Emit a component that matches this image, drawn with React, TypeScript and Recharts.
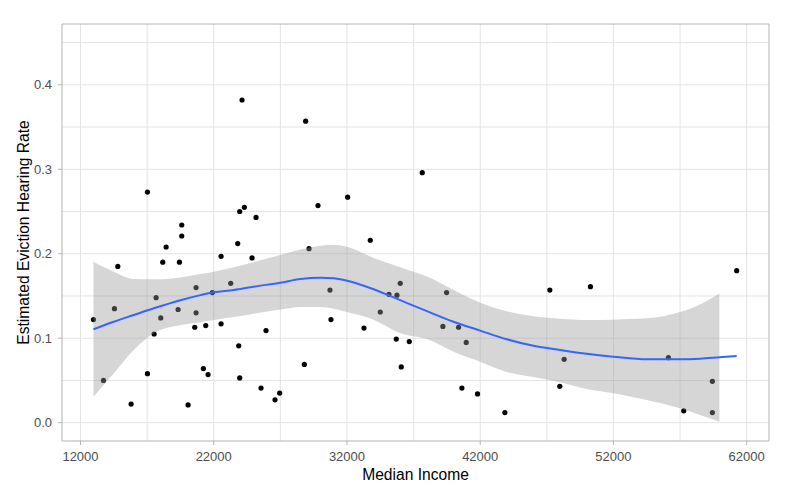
import React from "react";
import {
  ComposedChart,
  XAxis,
  YAxis,
  Scatter,
  Area,
  Line,
  ReferenceLine,
  ReferenceArea,
  Label,
} from "recharts";

// Observed points: median income vs estimated eviction hearing rate
const incomes = [
  12975, 13725, 14550, 14800, 15800, 17025, 17025, 17525, 17675, 18025,
  18175, 18425, 19325, 19425, 19600, 19600, 20075, 20675, 20675, 20575,
  21225, 21400, 21575, 21900, 22550, 22550, 23275, 23800, 23875, 23950,
  23950, 24125, 24300, 24875, 25175, 25550, 25925, 26600, 26950, 28800,
  28900, 29150, 29825, 30725, 30800, 32050, 33275, 33750, 34500, 35150,
  35700, 35750, 36000, 36075, 36675, 37650, 39200, 39475, 40375, 40625,
  40950, 41800, 43850, 47225, 47975, 48300, 50275, 56125, 57275, 59425,
  59425, 61250,
];
const rates = [
  0.122, 0.05, 0.135, 0.185, 0.022, 0.058, 0.273, 0.105, 0.148, 0.124,
  0.19, 0.208, 0.134, 0.19, 0.234, 0.221, 0.021, 0.16, 0.13, 0.113,
  0.064, 0.115, 0.057, 0.154, 0.197, 0.117, 0.165, 0.212, 0.091, 0.053,
  0.25, 0.382, 0.255, 0.195, 0.243, 0.041, 0.109, 0.027, 0.035, 0.069,
  0.357, 0.206, 0.257, 0.157, 0.122, 0.267, 0.112, 0.216, 0.131, 0.152,
  0.099, 0.151, 0.165, 0.066, 0.096, 0.296, 0.114, 0.154, 0.113, 0.041,
  0.095, 0.034, 0.012, 0.157, 0.043, 0.075, 0.161, 0.077, 0.014, 0.049,
  0.012, 0.18,
];

// Loess smooth and its confidence band
const smoothX = [
  12975, 14500, 16000, 17500, 19500, 21000, 22000, 23500, 25000, 27000,
  28500, 30000, 31000, 32000, 34000, 36000, 38000, 40000, 42000, 44000,
  46000, 48000, 50000, 52000, 54500, 57000, 58500, 59950, 61250,
];
const smoothFit = [
  0.1105, 0.1195, 0.1275, 0.1354, 0.145, 0.151, 0.1543, 0.157, 0.161, 0.1657,
  0.17, 0.1716, 0.171, 0.168, 0.158, 0.145, 0.132, 0.1195, 0.109, 0.0987,
  0.091, 0.086, 0.0815, 0.0781, 0.075, 0.075, 0.0758, 0.0775, 0.079,
];
const smoothHi = [
  0.1905, 0.1787, 0.17, 0.1697, 0.172, 0.176, 0.1787, 0.184, 0.19, 0.1985,
  0.205, 0.2095, 0.2105, 0.2083, 0.195, 0.184, 0.173, 0.157, 0.142, 0.132,
  0.126, 0.123, 0.1215, 0.122, 0.1235, 0.131, 0.14, 0.153, null,
];
const smoothLo = [
  0.0308, 0.0584, 0.086, 0.1058, 0.1156, 0.119, 0.1215, 0.125, 0.129, 0.134,
  0.137, 0.137, 0.135, 0.131, 0.122, 0.106, 0.099, 0.084, 0.0722, 0.06,
  0.054, 0.048, 0.04, 0.0348, 0.0269, 0.017, 0.009, 0.0012, null,
];

const xTicks = [12000, 22000, 32000, 42000, 52000, 62000];
const xMinor = [17000, 27000, 37000, 47000, 57000];
const yTicks = [0, 0.1, 0.2, 0.3, 0.4];
const yMinor = [0.05, 0.15, 0.25, 0.35, 0.45];
const xDomain = [10612, 63675];
const yDomain = [-0.0217, 0.472];

const points = incomes.map((x, i) => ({ x, y: rates[i] }));
const smoothRows = smoothX.map((x, i) => ({
  x,
  fit: smoothFit[i],
  lo: smoothLo[i],
  hi: smoothHi[i],
}));

const FONT = "'Liberation Sans', Arial, sans-serif";
const GRID = "#E3E3E3";

const Dot = (p: any) => <circle cx={p.cx} cy={p.cy} r={2.6} fill="#000" />;

export default function App() {
  return (
    <div style={{ position: "absolute", left: 0, top: 0, fontFamily: FONT }}>
      <ComposedChart
        width={790}
        height={493}
        data={smoothRows}
        margin={{ top: 24, right: 21, bottom: 0, left: 0 }}
      >
        <XAxis
          dataKey="x"
          type="number"
          domain={xDomain}
          ticks={xTicks}
          allowDataOverflow
          height={52}
          tickSize={4}
          tickMargin={7}
          axisLine={false}
          tickLine={{ stroke: "#B3B3B3" }}
          tick={{ fill: "#4D4D4D", fontSize: 13, fontFamily: FONT }}
        >
          <Label
            value="Median Income"
            position="insideBottom"
            offset={13}
            fill="#000"
            fontSize={15.6}
            fontFamily={FONT}
          />
        </XAxis>
        <YAxis
          type="number"
          domain={yDomain}
          ticks={yTicks}
          allowDataOverflow
          width={62}
          tickSize={4}
          tickMargin={6}
          axisLine={false}
          tickLine={{ stroke: "#B3B3B3" }}
          tickFormatter={(v: number) => v.toFixed(1)}
          tick={{ fill: "#4D4D4D", fontSize: 13, fontFamily: FONT }}
        >
          <Label
            content={(props: any) => {
              const vb = props.viewBox || {};
              const cx = (vb.x || 0) + 23.5;
              const cy = (vb.y || 0) + (vb.height || 0) / 2;
              return (
                <text
                  x={cx}
                  y={cy}
                  transform={`rotate(-90 ${cx} ${cy})`}
                  textAnchor="middle"
                  dominantBaseline="central"
                  fill="#000"
                  fontSize={15.6}
                  fontFamily={FONT}
                >
                  Estimated Eviction Hearing Rate
                </text>
              );
            }}
          />
        </YAxis>
        {yMinor.map((v) => (
          <ReferenceLine key={"ym" + v} y={v} stroke={GRID} strokeWidth={1} zIndex={-50} />
        ))}
        {xMinor.map((v) => (
          <ReferenceLine key={"xm" + v} x={v} stroke={GRID} strokeWidth={1} zIndex={-50} />
        ))}
        {yTicks.map((v) => (
          <ReferenceLine key={"y" + v} y={v} stroke={GRID} strokeWidth={1} zIndex={-50} />
        ))}
        {xTicks.map((v) => (
          <ReferenceLine key={"x" + v} x={v} stroke={GRID} strokeWidth={1} zIndex={-50} />
        ))}
        <Scatter
          data={points}
          dataKey="y"
          shape={Dot}
          isAnimationActive={false}
          zIndex={100}
        />
        <Area
          dataKey={(d: any) => (d.hi == null ? null : [d.lo, d.hi])}
          type="monotone"
          stroke="none"
          fill="#999999"
          fillOpacity={0.4}
          isAnimationActive={false}
          activeDot={false}
          zIndex={700}
        />
        <Line
          dataKey="fit"
          type="monotone"
          stroke="#3366FF"
          strokeWidth={2}
          dot={false}
          activeDot={false}
          isAnimationActive={false}
          zIndex={750}
        />
        <ReferenceArea
          x1={xDomain[0]}
          x2={xDomain[1]}
          y1={yDomain[0]}
          y2={yDomain[1]}
          fill="none"
          stroke="#B3B3B3"
          strokeWidth={1}
          zIndex={800}
        />
      </ComposedChart>
    </div>
  );
}
